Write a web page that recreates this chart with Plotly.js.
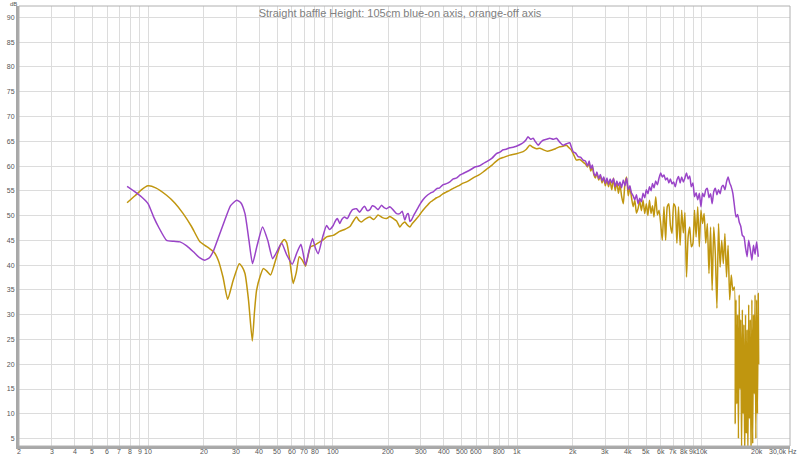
<!DOCTYPE html>
<html>
<head>
<meta charset="utf-8">
<script src="https://cdn.plot.ly/plotly-3.0.1.min.js"></script>
<style>html,body{margin:0;padding:0;background:#fff;}#chart{width:800px;height:456px;}</style>
</head>
<body>
<div id="chart"></div>
<script>
// On-axis response (purple)
const freqOn = [7.7, 8.5, 9.2, 10, 10.7, 11.4, 12.6, 13.8, 14.9, 16.2, 17.6, 19, 20.3, 21.5, 22.5, 24, 26, 28, 30.2, 31.8, 33.5, 35.2, 36.8, 39, 41.7, 44.5, 47.3, 50, 52.9, 56.5, 60.4, 64, 67.3, 69.5, 71.3, 74.5, 77.8, 80.5, 83.5, 88, 92.7, 96, 100.7, 103, 106, 109.4, 112, 116, 120, 124,
  128, 134.6, 140, 145, 149, 154, 159, 164, 169, 176, 184, 190, 196, 204, 213, 222, 231, 238, 246, 252, 257, 262, 267, 276, 285, 294, 303, 315, 328, 340, 350, 365, 380, 395, 410, 431, 450, 470, 490, 509, 535, 560, 590, 620, 653, 690, 730, 771, 805, 838, 870, 910, 950, 989, 1030, 1075, 1110, 1143, 1180, 1218, 1255, 1297, 1340, 1380, 1440, 1500, 1565, 1630, 1700, 1771, 1845, 1924, 1965, 2006, 2070, 2134, 2200, 2271, 2340,
  2400, 2450, 2500, 2550, 2600, 2650, 2700, 2760, 2820, 2880, 2940, 3000, 3060, 3120, 3180, 3250, 3320, 3390, 3460, 3530, 3600, 3670, 3750, 3830, 3910, 3990, 4070, 4150, 4240, 4330, 4420, 4510, 4600, 4700, 4800, 4900, 5000, 5100, 5200, 5300, 5400, 5500, 5620, 5740, 5860, 5980, 6100, 6230, 6360, 6490, 6620, 6750, 6890, 7030, 7170, 7320, 7470, 7620, 7770, 7930, 8090, 8250, 8420, 8590, 8760, 8940, 9120, 9300, 9490, 9680, 9880, 10080, 10280, 10490, 10700, 10920, 11140, 11360, 11590, 11820, 12060, 12300, 12550, 12800, 13060, 13320, 13590, 13860, 14140, 14420, 14710, 15000, 15300, 15610, 15920, 16240, 16560, 16890, 17230, 17570, 17920, 18280, 18650, 19020, 19400, 19790, 20190];
const dbOn = [55.9, 54.8, 53.8, 52.4, 49.8, 47.7, 45.0, 44.8, 44.7, 43.9, 42.7, 41.5, 41.0, 41.5, 42.7, 45.5, 49.0, 52.0, 53.1, 52.6, 50.4, 45.0, 40.3, 44.0, 47.7, 45.0, 41.3, 42.8, 44.4, 42.0, 40.2, 42.5, 44.2, 42.0, 40.0, 43.0, 45.4, 43.5, 42.3, 45.5, 48.0, 47.2, 48.0, 48.8, 49.4, 48.4, 49.2, 49.7, 49.4, 50.4,
  51.2, 51.4, 50.7, 51.5, 51.9, 51.0, 51.2, 52.0, 51.8, 51.2, 52.1, 51.6, 51.4, 51.8, 51.1, 50.4, 50.4, 50.9, 49.1, 50.2, 50.4, 48.8, 49.1, 50.2, 51.1, 52.0, 52.8, 53.6, 54.2, 54.6, 54.8, 55.4, 55.6, 56.2, 56.4, 56.8, 57.4, 57.6, 58.2, 58.5, 58.9, 59.3, 59.8, 60.0, 60.5, 61.0, 61.6, 62.5, 62.8, 63.3, 63.4, 63.7, 63.8, 64.0, 64.3, 64.7, 65.2, 65.9, 65.4, 65.6, 64.9, 64.2, 64.8, 65.2, 65.4, 65.6, 65.4, 65.6, 64.8, 64.2, 64.5, 64.7, 63.8, 62.9, 62.6, 61.9, 61.8, 61.2, 61.0,
  60.0, 61.0, 59.5, 60.2, 58.5, 58.0, 58.8, 57.5, 58.3, 57.0, 57.8, 56.5, 57.6, 56.3, 57.4, 56.6, 57.5, 55.8, 57.0, 56.0, 56.8, 55.6, 57.2, 56.0, 57.6, 55.2, 56.0, 54.6, 54.0, 53.2, 54.2, 52.4, 53.5, 52.8, 54.5, 53.6, 55.2, 54.4, 55.8, 55.0, 56.5, 55.6, 57.0, 56.2, 57.6, 58.6, 57.8, 58.2, 57.2, 57.6, 56.6, 57.4, 56.4, 56.8, 55.8, 57.2, 57.9, 56.6, 57.8, 56.8, 57.6, 58.6, 57.4, 58.0, 55.8, 56.6, 53.8, 54.6, 53.2, 54.5, 51.8, 54.5, 53.8, 55.2, 55.5, 53.6, 54.4, 52.4, 54.8, 55.5, 54.2, 55.2, 54.4, 55.8, 56.1, 55.2, 56.8, 57.8, 56.6, 55.8, 54.5, 52.0, 49.7, 50.2, 48.7, 47.8, 46.0, 45.7, 43.5, 41.7, 45.0, 43.2, 41.0, 44.0, 42.2, 44.7, 41.7];

// Off-axis response (gold)
const freqOff = [7.7, 8.5, 9.2, 10, 11, 12.6, 14, 15.5, 17.2, 19.1, 20.3, 21.6, 22.8, 24, 25.5, 27, 28.9, 31.2, 32.4, 33.5, 35, 36.7, 37.7, 38.7, 40.5, 42.1, 44, 46.1, 48, 49.7, 52, 54.6, 56.3, 57.9, 59.5, 61.1, 63.5, 65.9, 68.5, 71.3, 73.5, 75.9, 79.5, 83.5, 88, 92.7, 100.7, 109, 116, 124,
  128, 134.6, 139, 143, 150, 159, 167, 176, 186, 196, 204, 213, 222, 231, 238, 246, 254, 262, 270, 285, 294, 303, 315, 328, 340, 350, 365, 380, 395, 410, 431, 455, 480, 505, 531, 560, 590, 620, 653, 690, 730, 765, 804, 850, 910, 960, 1010, 1075, 1120, 1169, 1215, 1270, 1325, 1380, 1455, 1530, 1610, 1698, 1770, 1845, 1905, 1963, 2025, 2089, 2180, 2271, 2340,
  2400, 2450, 2500, 2550, 2600, 2650, 2700, 2760, 2820, 2880, 2940, 3000, 3060, 3120, 3180, 3250, 3320, 3390, 3460, 3530, 3600, 3670, 3750, 3830, 3910, 3990, 4070, 4150, 4240, 4330, 4420, 4510, 4600, 4700, 4800, 4900, 5000, 5100, 5200, 5300, 5400, 5500, 5620, 5740, 5860, 5980, 6100, 6230, 6360, 6490, 6620, 6750, 6890, 7030, 7170, 7320, 7470, 7620, 7770, 7930, 8090, 8250, 8420, 8590, 8760, 8940, 9120, 9300, 9490, 9680, 9880, 10080, 10280, 10490, 10700, 10920, 11140, 11360, 11590, 11820, 12060, 12300, 12550, 12800, 13060, 13320, 13590, 13860, 14140, 14420, 14710,
  15000, 15150, 15300, 15450, 15610, 15770, 15920, 16080, 16240, 16400, 16560, 16720, 16890, 17060, 17230, 17400, 17570, 17750, 17920, 18100, 18280, 18460, 18650, 18840, 19020, 19210, 19400, 19600, 19790, 19990, 20190, 20300];
const dbOff = [52.6, 54.0, 55.2, 56.0, 55.6, 54.1, 52.5, 50.4, 47.8, 44.7, 44.0, 43.3, 42.6, 41.0, 37.5, 33.1, 36.9, 40.3, 39.6, 38.3, 33.0, 24.7, 30.5, 34.9, 37.8, 39.3, 38.8, 38.0, 39.8, 41.7, 44.0, 45.2, 44.6, 42.3, 39.0, 36.3, 38.5, 41.7, 41.0, 39.8, 41.8, 43.7, 44.0, 44.5, 45.0, 45.7, 46.0, 46.8, 47.2, 47.8,
  48.6, 49.7, 49.0, 48.7, 49.3, 49.7, 49.2, 50.1, 49.6, 49.4, 49.8, 49.4, 48.9, 47.7, 48.3, 48.7, 48.1, 47.7, 48.4, 49.4, 50.0, 50.7, 51.5, 52.2, 52.8, 53.1, 53.6, 53.9, 54.4, 54.7, 55.1, 55.6, 56.0, 56.5, 56.8, 57.3, 57.8, 58.2, 58.8, 59.5, 60.2, 60.9, 61.5, 61.8, 62.2, 62.4, 62.6, 62.9, 63.4, 64.2, 63.8, 63.5, 63.6, 63.3, 63.0, 63.2, 63.5, 63.9, 64.0, 64.2, 63.7, 63.2, 62.2, 61.2, 61.3, 60.8, 60.4,
  59.8, 60.6, 59.0, 59.8, 58.2, 57.6, 58.5, 57.2, 58.0, 56.6, 57.5, 56.0, 57.2, 55.8, 57.0, 55.2, 57.6, 55.0, 56.8, 54.5, 56.2, 54.0, 52.4, 56.5, 57.8, 54.0, 55.8, 53.8, 51.8, 53.1, 50.5, 51.4, 53.1, 51.0, 53.1, 50.4, 52.4, 50.0, 53.1, 50.4, 52.0, 49.7, 53.8, 50.1, 51.1, 48.4, 45.0, 51.8, 45.0, 51.8, 52.4, 48.0, 46.4, 52.4, 51.8, 44.4, 51.8, 44.0, 51.1, 46.5, 50.6, 37.6, 45.7, 47.7, 43.7, 44.4, 51.1, 45.7, 51.8, 43.7, 51.1, 48.4, 50.4, 44.4, 48.4, 38.3, 47.7, 34.9, 47.7, 42.3, 31.3, 48.4, 39.6, 45.0, 40.3, 46.4, 37.6, 44.0, 33.0, 38.0, 34.9,
  35.6, 8.0, 33.0, 12.0, 30.0, 5.0, 34.0, 15.0, 29.0, 2.0, 31.0, 10.0, 28.0, 0.0, 30.0, 6.0, 27.0, 1.0, 32.0, 9.0, 29.0, 0.0, 33.0, 4.0, 30.0, 14.0, 34.0, 5.0, 33.0, 10.0, 34.3, 20.0];

// Axis ticks
const xTickVals = [2,3,4,5,6,7,8,9,10,20,30,40,50,60,70,80,90,100,200,300,400,500,600,700,800,900,1000,2000,3000,4000,5000,6000,7000,8000,9000,10000,20000,30000];
const xTickText = ['2','3','4','5','6','7','8','9','10','20','30','40','50','60','70','80','','100','200','300','400','500','600','','800','','1k','2k','3k','4k','5k','6k','7k','8k','9k','10k','20k',''];
const yTickVals = [5,10,15,20,25,30,35,40,45,50,55,60,65,70,75,80,85,90];

const titleText = 'Straight baffle Height: 105cm blue-on axis, orange-off axis';

const traces = [
  {x: freqOff, y: dbOff, type: 'scatter', mode: 'lines', line: {color: '#c0960f', width: 1.5, shape: 'spline', smoothing: 0.5}, hoverinfo: 'skip'},
  {x: freqOn, y: dbOn, type: 'scatter', mode: 'lines', line: {color: '#9a44c8', width: 1.5, shape: 'spline', smoothing: 0.5}, hoverinfo: 'skip'}
];

const tickFont = {size: 7, color: '#555', family: 'Liberation Sans, Arial, sans-serif'};
const annotations = [
  {text: 'dB', xref: 'paper', yref: 'paper', x: -6/771, y: 1 + 6/440, xanchor: 'center', yanchor: 'top', borderpad: 0, showarrow: false, font: {size: 6, color: '#555', family: 'Liberation Sans, Arial, sans-serif'}},
  {text: '30,0k Hz', xref: 'paper', yref: 'paper', x: 1 + 9/771, y: 0, xanchor: 'right', yanchor: 'middle', yshift: -5, showarrow: false, font: tickFont}
];
xTickVals.forEach((v, i) => {
  if (xTickText[i] !== '') {
    annotations.push({text: xTickText[i], xref: 'x', yref: 'paper', x: Math.log10(v), y: 0, xanchor: 'center', yanchor: 'middle', yshift: -5, showarrow: false, font: tickFont});
  }
});

const layout = {
  width: 800, height: 456,
  margin: {l: 19, r: 10, t: 6, b: 10},
  paper_bgcolor: '#ffffff', plot_bgcolor: '#ffffff',
  showlegend: false,
  font: {family: 'Liberation Sans, Arial, sans-serif', color: '#555'},
  title: {text: titleText, x: 0.5, xanchor: 'center', y: 1 - 13/456, yanchor: 'middle', font: {size: 11, color: '#808080', family: 'Liberation Sans, Arial, sans-serif'}},
  xaxis: {type: 'log', range: [Math.log10(2), Math.log10(30000)], tickvals: xTickVals, showticklabels: false, ticks: '', showgrid: true, gridcolor: '#dcdcdc', gridwidth: 1, zeroline: false, showline: true, linecolor: '#a8a8a8', linewidth: 3, fixedrange: true},
  yaxis: {range: [3.5, 92.3], tickvals: yTickVals, ticks: '', showgrid: true, gridcolor: '#dcdcdc', gridwidth: 1, zeroline: false, showline: true, linecolor: '#a8a8a8', linewidth: 3, tickfont: tickFont, fixedrange: true},
  shapes: [
    {type: 'rect', xref: 'paper', yref: 'paper', x0: 0, x1: 1, y0: 0, y1: 1, line: {color: '#b0b0b0', width: 1}}
  ],
  annotations: annotations
};

Plotly.newPlot('chart', traces, layout, {displayModeBar: false, staticPlot: true});
</script>
</body>
</html>
